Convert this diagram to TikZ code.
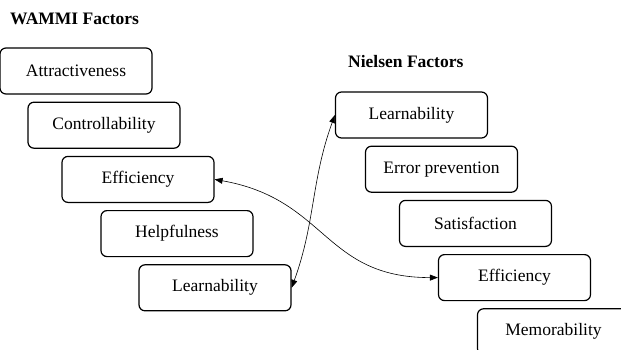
\documentclass[tikz,border=0pt]{standalone}
\usepackage{fontspec}
\setmainfont{Liberation Serif}
\usepackage{tikz}
\usetikzlibrary{arrows.meta, positioning}
\tikzstyle{factor} = [rectangle, rounded corners=6pt, minimum width=152pt, minimum height=46pt, text centered, draw=black, line width=1.2pt, inner sep=0pt]
\tikzstyle{heading} = [font=\fontsize{17.5}{21}\selectfont\bfseries, inner sep=0pt]
\tikzstyle{link} = [line width=0.6pt, <->, >={Triangle[length=8pt,width=6pt]}]

\begin{document}
\begin{tikzpicture}[x=1pt, y=1pt, node distance=7pt, font=\fontsize{17.5}{21}\selectfont]
\useasboundingbox (0,0) rectangle (621,-349);

% WAMMI side
\node (wammi) [heading, anchor=west] at (10,-19) {WAMMI Factors};
\node (attrW) [factor] at (76,-71) {Attractiveness};
\node (contW) [factor, below=of attrW, xshift=28pt] {Controllability};
\node (effW) [factor, below=of contW, xshift=34pt] {Efficiency};
\node (helpW) [factor, below=of effW, xshift=39pt] {Helpfulness};
\node (learnW) [factor, below=of helpW, xshift=38pt] {Learnability};

% Nielsen side
\node (nielsen) [heading, anchor=west] at (348,-62) {Nielsen Factors};
\node (learnN) [factor] at (411.5,-115) {Learnability};
\node (errN) [factor, below=of learnN, xshift=30pt] {Error prevention};
\node (satN) [factor, below=of errN, xshift=34pt] {Satisfaction};
\node (effN) [factor, below=of satN, xshift=39pt] {Efficiency};
\node (memN) [factor, below=of effN, xshift=39pt] {Memorability};

\draw [link] (learnW.east) to[out=70, in=250] (learnN.west);
\draw [link] (effW.east) to[out=-10, in=180, looseness=1.2] (effN.west);

\end{tikzpicture}
\end{document}
